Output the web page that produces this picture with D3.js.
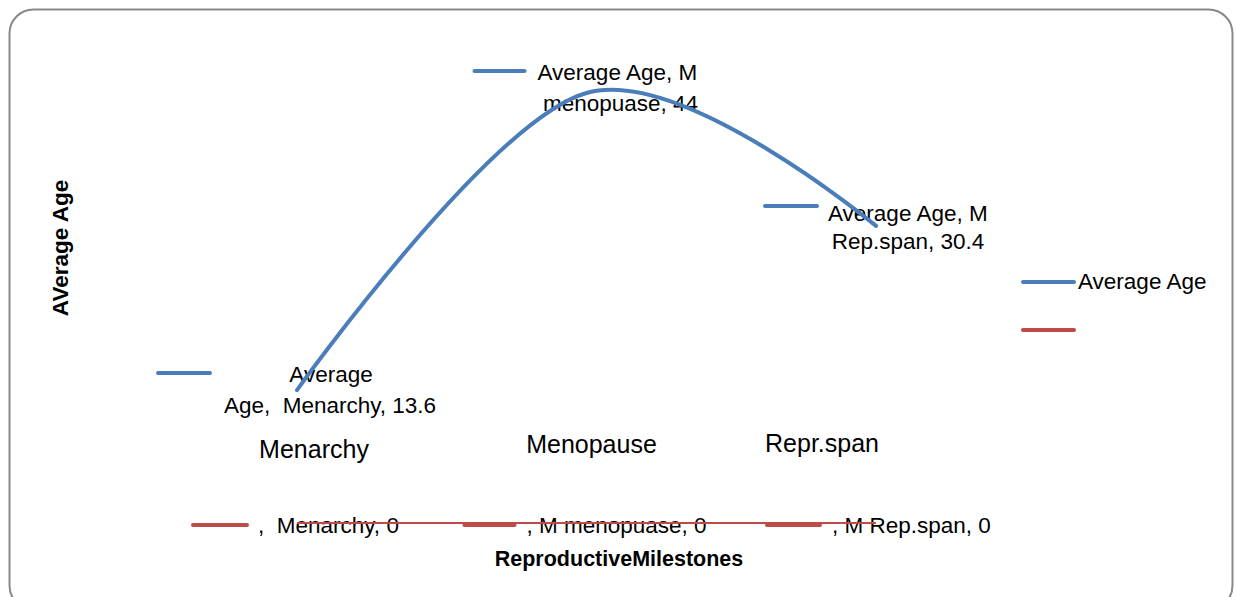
<!DOCTYPE html>
<html>
<head>
<meta charset="utf-8">
<script src="https://cdn.jsdelivr.net/npm/d3@7"></script>
<style>
  html, body { margin: 0; padding: 0; background: #fff; }
  text { font-family: "Liberation Sans", Arial, sans-serif; fill: #000; white-space: pre; }
</style>
</head>
<body>
<svg></svg>
<script>
// data
const categories = ["Menarchy", "Menopause", "Repr.span"];
const averageAge = [13.6, 44, 30.4];
const secondSeries = [0, 0, 0];
const blueLabels = [
  ["Average", "Age,  Menarchy, 13.6"],
  ["Average Age, M", "menopuase, 44"],
  ["Average Age, M", "Rep.span, 30.4"]
];
const redLabels = [",  Menarchy, 0", ", M menopuase, 0", ", M Rep.span, 0"];
const legendLabels = ["Average Age", ""];

const width = 1236,
      height = 597,
      blue = "#4a7ebb",
      red = "#be4b48";

const svg = d3.select("svg")
  .attr("width", width)
  .attr("height", height);

// chart frame (bottom edge runs off the picture)
svg.append("rect")
  .attr("x", 9.5).attr("y", 9.5)
  .attr("width", 1223).attr("height", 600)
  .attr("rx", 24).attr("ry", 24)
  .attr("fill", "#fff")
  .attr("stroke", "#898989")
  .attr("stroke-width", 2);

const x = d3.scalePoint().domain(categories).range([297, 876]);
const y = d3.scaleLinear().domain([0, 44]).range([523, 93]);

const blueData = categories.map((c, i) => ({ c: c, v: averageAge[i] }));
const redData = categories.map((c, i) => ({ c: c, v: secondSeries[i] }));

const line = d3.line()
  .x(d => x(d.c))
  .y(d => y(d.v))
  .curve(d3.curveCardinal.tension(0));

// category labels (sit above the zero line)
const catNudge = [{ dx: 17, y: 458 }, { dx: 5, y: 453 }, { dx: -54, y: 452 }];
svg.selectAll(".cat")
  .data(categories)
  .enter().append("text")
  .attr("class", "cat")
  .attr("x", (d, i) => x(d) + catNudge[i].dx)
  .attr("y", (d, i) => catNudge[i].y)
  .attr("text-anchor", "middle")
  .style("font-size", "25px")
  .text(d => d);

function key(g, x1, x2, yy, color) {
  g.append("line")
    .attr("x1", x1).attr("x2", x2)
    .attr("y1", yy).attr("y2", yy)
    .attr("stroke", color)
    .attr("stroke-width", 4)
    .attr("stroke-linecap", "round");
}

// red data labels
const redLay = [
  { k1: -104, k2: -50, t: -39 },
  { k1: -122, k2: -72, t: -60 },
  { k1: -109, k2: -56, t: -44 }
];
redData.forEach((d, i) => {
  const px = x(d.c), py = y(d.v), L = redLay[i];
  const g = svg.append("g");
  key(g, px + L.k1, px + L.k2, py + 2, red);
  g.append("text")
    .attr("x", px + L.t).attr("y", py + 10)
    .style("font-size", "22.5px")
    .text(redLabels[i]);
});

// red series (flat at zero), drawn over its labels
svg.append("path")
  .datum(redData)
  .attr("fill", "none")
  .attr("stroke", red)
  .attr("stroke-width", 2)
  .attr("d", line);

// blue data labels (with legend keys), offsets relative to the point
const blueLay = [
  { k1: -139, k2: -87, ky: -17, anchor: "middle", t1: 34, t2: 33, b1: -8, b2: 23 },
  { k1: -112, k2: -62, ky: -22, anchor: "start", t1: -49, t2: 34, b1: -13, b2: 18 },
  { k1: -111, k2: -59, ky: -20, anchor: "start", t1: -48, t2: 32, b1: -5, b2: 23 }
];
blueData.forEach((d, i) => {
  const px = x(d.c), py = y(d.v), L = blueLay[i];
  const g = svg.append("g");
  key(g, px + L.k1, px + L.k2, py + L.ky, blue);
  g.append("text")
    .attr("x", px + L.t1).attr("y", py + L.b1)
    .attr("text-anchor", L.anchor)
    .style("font-size", "22.5px")
    .text(blueLabels[i][0]);
  g.append("text")
    .attr("x", px + L.t2).attr("y", py + L.b2)
    .attr("text-anchor", "middle")
    .style("font-size", "22.5px")
    .text(blueLabels[i][1]);
});

// blue series
svg.append("path")
  .datum(blueData)
  .attr("fill", "none")
  .attr("stroke", blue)
  .attr("stroke-width", 4)
  .attr("stroke-linecap", "round")
  .attr("d", line);

// axis titles
svg.append("text")
  .attr("transform", "translate(68,248) rotate(-90)")
  .attr("text-anchor", "middle")
  .style("font-size", "22.5px")
  .style("font-weight", "bold")
  .text("AVerage Age");

svg.append("text")
  .attr("x", 619).attr("y", 566)
  .attr("text-anchor", "middle")
  .style("font-size", "21.5px")
  .style("font-weight", "bold")
  .text("ReproductiveMilestones");

// legend
const legend = svg.append("g").attr("transform", "translate(1022,282)");
legendLabels.forEach((t, i) => {
  const g = legend.append("g").attr("transform", "translate(0," + (i * 48) + ")");
  key(g, 1, 52, 0, i === 0 ? blue : red);
  g.append("text")
    .attr("x", 56).attr("y", 7)
    .style("font-size", "22.5px")
    .text(t);
});
</script>
</body>
</html>
